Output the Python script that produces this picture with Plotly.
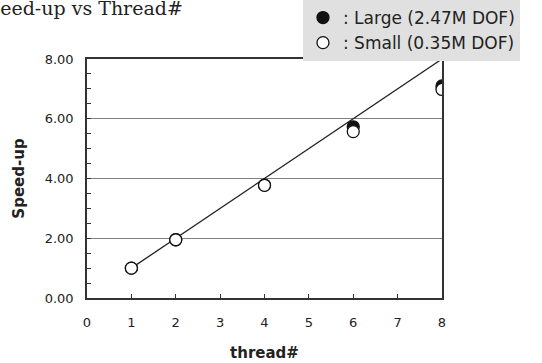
import plotly.graph_objects as go

threads = [1, 2, 4, 6, 8]
large = [1.00, 1.95, 3.78, 5.73, 7.10]
small = [1.00, 1.95, 3.77, 5.57, 6.98]
ideal_x = [1, 8]
ideal_y = [1, 8]
x_ticks = [0, 1, 2, 3, 4, 5, 6, 7, 8]
y_ticks = [0, 2, 4, 6, 8]

fig = go.Figure()
fig.add_trace(go.Scatter(x=ideal_x, y=ideal_y, mode="lines",
                         line=dict(color="#222", width=1.3), showlegend=False, hoverinfo="skip"))
fig.add_trace(go.Scatter(x=threads, y=large, mode="markers", name=": Large (2.47M DOF)",
                         marker=dict(size=12, color="#111", line=dict(color="#111", width=1.3))))
fig.add_trace(go.Scatter(x=threads, y=small, mode="markers", name=": Small (0.35M DOF)",
                         marker=dict(size=12, color="white", line=dict(color="#111", width=1.3))))

tickfont = dict(family="DejaVu Sans", size=13, color="#222")
titlefont = dict(family="DejaVu Sans", size=15, color="#222", weight="bold")
fig.update_xaxes(range=[0, 8], tickvals=x_ticks, ticks="inside", ticklen=4, tickcolor="#333",
                 showline=True, linecolor="#333", linewidth=1.5, mirror=True, showgrid=False,
                 zeroline=False, tickfont=tickfont, ticklabelstandoff=12, automargin=False,
                 title=dict(text="thread#", font=titlefont, standoff=18))
fig.update_yaxes(range=[0, 8], tickvals=y_ticks, tickformat=".2f", ticks="inside", ticklen=4,
                 tickcolor="#333", showline=True, linecolor="#333", linewidth=1.5, mirror=True,
                 showgrid=True, gridcolor="#808080", gridwidth=1, zeroline=False, tickfont=tickfont,
                 ticklabelstandoff=9, automargin=False,
                 minor=dict(dtick=0.5, ticks="inside", ticklen=4, tickcolor="#333", showgrid=False),
                 title=dict(text="Speed-up", font=titlefont, standoff=16))

fig.add_annotation(text="Speed-up vs Thread#", xref="paper", yref="paper", x=-0.3225, y=1.2125,
                   xanchor="left", yanchor="middle", showarrow=False,
                   font=dict(family="DejaVu Serif", size=19, color="#222"))

fig.update_layout(
    width=542, height=363,
    margin=dict(l=87, r=100, t=59, b=65, autoexpand=False),
    plot_bgcolor="white", paper_bgcolor="white",
    legend=dict(xref="container", yref="container", x=0.559, y=1, xanchor="left", yanchor="top",
                bgcolor="#e0e0e0",
                font=dict(family="DejaVu Sans", size=17, color="#222"),
                tracegroupgap=0, itemwidth=30),
)
fig.write_html("out.html")
